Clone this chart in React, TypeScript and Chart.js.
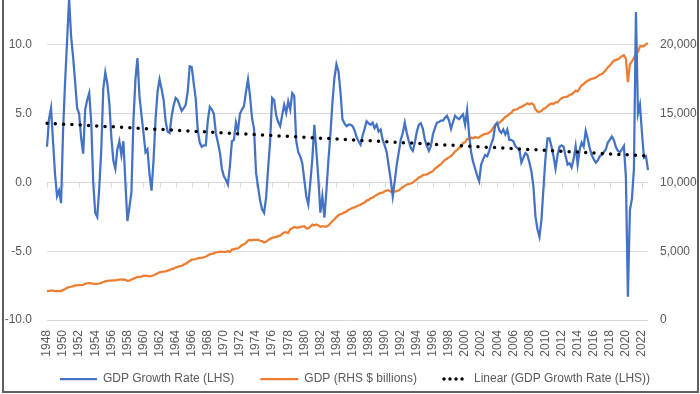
import React, { useEffect, useRef } from "react";
import { Chart, registerables } from "chart.js";

Chart.register(...registerables);

// ---------- data ----------
const firstYear = 1948;
const lastYear = 2022;
const quarterNames = ["Q1", "Q2", "Q3", "Q4"];

// Year-over-year real GDP growth, %, quarterly 1948 Q1 .. 2022 Q4 (left axis)
const growthRate: number[] = [
  2.6, 4.6, 5.4, 3.0, // 1948
  0.6, -1.0, -0.6, -1.5, // 1949
  3.8, 7.3, 10.3, 13.4, // 1950
  10.6, 9.1, 7.3, 5.4, // 1951
  5.0, 3.2, 2.1, 5.3, // 1952
  6.0, 6.5, 4.4, 0.0, // 1953
  -2.2, -2.5, -0.4, 2.4, // 1954
  6.8, 8.0, 7.2, 5.8, // 1955
  3.3, 1.6, 1.0, 2.4, // 1956
  3.0, 2.0, 3.0, 0.0, // 1957
  -2.8, -1.8, -0.7, 4.5, // 1958
  7.5, 9.05, 6.3, 4.9, // 1959
  3.6, 2.2, 2.4, 0.6, // 1960
  -0.6, 1.6, 4.6, 6.6, // 1961
  7.5, 6.8, 6.0, 4.5, // 1962
  3.7, 3.6, 4.8, 5.6, // 1963
  6.15, 6.0, 5.6, 5.2, // 1964
  5.4, 5.65, 6.6, 8.45, // 1965
  8.4, 7.2, 6.1, 3.8, // 1966
  2.9, 2.6, 2.7, 2.7, // 1967
  4.5, 5.5, 5.3, 5.0, // 1968
  3.6, 2.9, 2.2, 1.0, // 1969
  0.45, 0.2, -0.15, 1.2, // 1970
  3.0, 3.1, 4.35, 3.75, // 1971
  5.0, 5.3, 5.55, 6.6, // 1972
  7.5, 6.3, 4.7, 3.9, // 1973
  0.7, -0.3, -1.3, -1.95, // 1974
  -2.2, -1.1, 1.0, 3.0, // 1975
  6.15, 6.0, 4.9, 4.4, // 1976
  4.1, 4.9, 5.65, 5.05, // 1977
  5.9, 5.3, 6.5, 6.3, // 1978
  3.0, 2.2, 1.9, 1.4, // 1979
  0.2, -1.0, -1.6, 0.0, // 1980
  1.7, 4.2, 2.3, 0.3, // 1981
  -2.2, -1.0, -2.55, -0.6, // 1982
  1.6, 3.5, 5.8, 7.6, // 1983
  8.6, 8.1, 6.6, 4.6, // 1984
  4.3, 4.1, 4.2, 4.2, // 1985
  4.1, 3.8, 3.3, 3.0, // 1986
  2.75, 3.4, 3.9, 4.45, // 1987
  4.3, 4.2, 4.35, 3.95, // 1988
  4.2, 3.7, 3.85, 3.1, // 1989
  2.7, 2.2, 1.2, 0.2, // 1990
  -1.0, 0.1, 1.3, 2.2, // 1991
  3.1, 3.6, 4.35, 3.6, // 1992
  3.0, 2.5, 2.3, 2.9, // 1993
  3.7, 4.2, 4.3, 3.9, // 1994
  3.1, 2.65, 2.3, 2.65, // 1995
  3.5, 3.95, 4.35, 4.4, // 1996
  4.5, 4.5, 4.7, 4.85, // 1997
  4.5, 3.9, 4.4, 4.85, // 1998
  4.7, 4.6, 4.8, 4.95, // 1999
  4.2, 5.25, 3.5, 2.2, // 2000
  1.5, 1.0, 0.5, 0.1, // 2001
  1.3, 1.7, 2.0, 1.9, // 2002
  2.3, 2.8, 3.2, 4.2, // 2003
  4.35, 3.8, 3.6, 3.85, // 2004
  3.5, 3.85, 3.1, 3.1, // 2005
  3.0, 2.65, 2.5, 2.4, // 2006
  1.45, 1.8, 2.15, 2.0, // 2007
  1.45, 0.8, -0.3, -2.45, // 2008
  -3.4, -3.95, -2.7, -0.4, // 2009
  1.8, 3.2, 3.2, 2.6, // 2010
  1.9, 1.0, 2.0, 2.6, // 2011
  2.7, 2.6, 1.9, 1.3, // 2012
  1.4, 1.1, 1.7, 2.65, // 2013
  1.3, 2.4, 2.9, 2.6, // 2014
  3.75, 3.2, 2.5, 2.0, // 2015
  1.7, 1.45, 1.6, 1.9, // 2016
  2.0, 2.2, 2.4, 2.9, // 2017
  3.1, 3.35, 3.1, 2.6, // 2018
  2.3, 2.2, 2.4, 2.65, // 2019
  0.4, -8.3, -2.0, -1.2, // 2020
  1.0, 12.4, 5.0, 5.65, // 2021
  3.6, 1.8, 1.9, 0.9, // 2022
];

// Real GDP, $ billions, quarterly 1948 Q1 .. 2022 Q4 (right axis)
const gdpBillions: number[] = [
  2087, 2122, 2134, 2136, // 1948
  2107, 2100, 2121, 2104, // 1949
  2186, 2253, 2340, 2385, // 1950
  2417, 2459, 2510, 2515, // 1951
  2534, 2539, 2559, 2629, // 1952
  2673, 2689, 2670, 2630, // 1953
  2621, 2625, 2654, 2698, // 1954
  2765, 2810, 2853, 2871, // 1955
  2863, 2880, 2880, 2913, // 1956
  2934, 2929, 2952, 2922, // 1957
  2854, 2869, 2944, 3010, // 1958
  3064, 3142, 3143, 3156, // 1959
  3228, 3205, 3213, 3172, // 1960
  3201, 3258, 3319, 3398, // 1961
  3462, 3501, 3526, 3537, // 1962
  3585, 3625, 3702, 3737, // 1963
  3821, 3865, 3925, 3940, // 1964
  4037, 4095, 4185, 4294, // 1965
  4394, 4404, 4437, 4478, // 1966
  4519, 4524, 4563, 4598, // 1967
  4689, 4779, 4815, 4837, // 1968
  4922, 4943, 4977, 4952, // 1969
  4947, 4954, 5001, 4955, // 1970
  5125, 5149, 5192, 5206, // 1971
  5323, 5449, 5506, 5613, // 1972
  5774, 5819, 5789, 5848, // 1973
  5813, 5837, 5762, 5743, // 1974
  5642, 5689, 5813, 5906, // 1975
  5972, 6013, 6049, 6098, // 1976
  6133, 6259, 6379, 6374, // 1977
  6331, 6606, 6669, 6765, // 1978
  6716, 6723, 6773, 6795, // 1979
  6817, 6669, 6669, 6786, // 1980
  6938, 6889, 6949, 6873, // 1981
  6783, 6822, 6790, 6796, // 1982
  6877, 7037, 7186, 7331, // 1983
  7485, 7614, 7692, 7749, // 1984
  7826, 7894, 8015, 8076, // 1985
  8152, 8185, 8264, 8322, // 1986
  8384, 8469, 8540, 8683, // 1987
  8735, 8847, 8890, 9005, // 1988
  9099, 9173, 9242, 9263, // 1989
  9358, 9418, 9422, 9326, // 1990
  9278, 9339, 9383, 9427, // 1991
  9548, 9654, 9752, 9856, // 1992
  9874, 9928, 9991, 10132, // 1993
  10227, 10359, 10421, 10534, // 1994
  10563, 10588, 10675, 10754, // 1995
  10824, 11009, 11103, 11237, // 1996
  11328, 11508, 11638, 11728, // 1997
  11827, 11932, 12072, 12257, // 1998
  12378, 12492, 12652, 12878, // 1999
  12924, 13160, 13178, 13260, // 2000
  13222, 13300, 13244, 13281, // 2001
  13397, 13478, 13539, 13559, // 2002
  13634, 13751, 13985, 14146, // 2003
  14221, 14330, 14465, 14605, // 2004
  14768, 14844, 14983, 15068, // 2005
  15268, 15302, 15327, 15456, // 2006
  15494, 15583, 15666, 15762, // 2007
  15671, 15753, 15667, 15329, // 2008
  15155, 15134, 15190, 15356, // 2009
  15416, 15558, 15671, 15751, // 2010
  15713, 15825, 15821, 16004, // 2011
  16129, 16198, 16220, 16240, // 2012
  16383, 16404, 16532, 16687, // 2013
  16623, 16849, 17073, 17161, // 2014
  17294, 17394, 17484, 17532, // 2015
  17568, 17623, 17732, 17834, // 2016
  17894, 18002, 18183, 18369, // 2017
  18510, 18687, 18851, 18917, // 2018
  18950, 19060, 19180, 19250, // 2019
  19010, 17300, 18600, 18800, // 2020
  19060, 19370, 19480, 19900, // 2021
  19920, 19900, 20050, 20120, // 2022
];

const leftTicks = [-10, -5, 0, 5, 10];
const rightTicks = [0, 5000, 10000, 15000, 20000];
const seriesNames = [
  "GDP Growth Rate (LHS)",
  "GDP (RHS $ billions)",
  "Linear (GDP Growth Rate (LHS))",
];
const tickEveryYears = 2;

// ---------- derived tables ----------
const categories: string[] = [];
for (let y = firstYear; y <= lastYear; y++) {
  for (const q of quarterNames) categories.push(`${y} ${q}`);
}

// least-squares linear trendline of the growth series (Excel "Linear" trendline)
function linearTrend(values: number[]): number[] {
  const n = values.length;
  let sx = 0, sy = 0, sxy = 0, sxx = 0;
  values.forEach((v, i) => {
    sx += i; sy += v; sxy += i * v; sxx += i * i;
  });
  const slope = (n * sxy - sx * sy) / (n * sxx - sx * sx);
  const intercept = (sy - slope * sx) / n;
  return values.map((_, i) => intercept + slope * i);
}
const growthTrend = linearTrend(growthRate);

// ---------- styles ----------
const BLUE = "#4472C4";
const ORANGE = "#ED7D31";
const TEXT = "#595959";
const GRID = "#D9D9D9";
const FONT_FAMILY = '"Liberation Sans", Arial, sans-serif';

const legendStyle = {
  sampleWidths: [37, 38, 25],
  textGap: 6,
  itemGap: 26,
  centerX: 355,
  centerY: 379,
  fontSize: 12,
};

function isLabelIndex(idx: number): boolean {
  const c = categories[idx];
  const yr = parseInt(c, 10);
  return c.endsWith("Q1") && (yr - firstYear) % tickEveryYears === 0;
}

// small tick marks on the horizontal axis line at 0 (Excel axis crossing)
const zeroAxisTicks = {
  id: "zeroAxisTicks",
  beforeDatasetsDraw(chart: any) {
    const x = chart.scales.x;
    const y = chart.scales.y;
    const y0 = y.getPixelForValue(0);
    const ctx = chart.ctx;
    ctx.save();
    ctx.strokeStyle = GRID;
    ctx.lineWidth = 1;
    ctx.beginPath();
    categories.forEach((_c, i) => {
      if (isLabelIndex(i)) {
        const px = Math.round(x.getPixelForValue(i)) + 0.5;
        ctx.moveTo(px, y0);
        ctx.lineTo(px, y0 + 5);
      }
    });
    ctx.stroke();
    ctx.restore();
  },
};

// Excel-style legend row under the axis
const excelLegend = {
  id: "excelLegend",
  afterDraw(chart: any) {
    const ctx = chart.ctx;
    const ds = chart.data.datasets;
    ctx.save();
    ctx.font = `${legendStyle.fontSize}px ${FONT_FAMILY}`;
    ctx.textBaseline = "middle";
    ctx.textAlign = "left";
    const widths = ds.map((d: any) => ctx.measureText(d.label).width);
    let total = 0;
    ds.forEach((_d: any, i: number) => {
      total += legendStyle.sampleWidths[i] + legendStyle.textGap + widths[i];
    });
    total += legendStyle.itemGap * (ds.length - 1);
    let x = legendStyle.centerX - total / 2;
    const y = legendStyle.centerY;
    ds.forEach((d: any, i: number) => {
      const sw = legendStyle.sampleWidths[i];
      ctx.beginPath();
      ctx.strokeStyle = d.borderColor;
      ctx.lineWidth = d.borderWidth;
      if (d.borderDash && d.borderDash.length) {
        ctx.setLineDash([0, 6]);
        ctx.lineCap = "round";
        ctx.moveTo(x + 1, y);
        ctx.lineTo(x + sw - 0.5, y);
      } else {
        ctx.setLineDash([]);
        ctx.lineCap = "butt";
        ctx.moveTo(x, y);
        ctx.lineTo(x + sw, y);
      }
      ctx.stroke();
      ctx.setLineDash([]);
      x += sw + legendStyle.textGap;
      ctx.fillStyle = TEXT;
      ctx.fillText(d.label, x, y);
      x += widths[i] + legendStyle.itemGap;
    });
    ctx.restore();
  },
};

export default function App() {
  const canvasRef = useRef<HTMLCanvasElement | null>(null);

  useEffect(() => {
    if (!canvasRef.current) return;
    Chart.defaults.font.family = FONT_FAMILY;
    Chart.defaults.color = TEXT;

    const chart = new Chart(canvasRef.current, {
      type: "line",
      data: {
        labels: categories,
        datasets: [
          {
            label: seriesNames[0],
            data: growthRate,
            yAxisID: "y",
            borderColor: BLUE,
            backgroundColor: BLUE,
            borderWidth: 2.25,
            pointRadius: 0,
            tension: 0,
            order: 1,
          },
          {
            label: seriesNames[1],
            data: gdpBillions,
            yAxisID: "y1",
            borderColor: ORANGE,
            backgroundColor: ORANGE,
            borderWidth: 2.25,
            pointRadius: 0,
            tension: 0,
            order: 2,
          },
          {
            label: seriesNames[2],
            data: growthTrend,
            yAxisID: "y",
            borderColor: "#000000",
            backgroundColor: "#000000",
            borderWidth: 3.5,
            borderDash: [0, 8.3],
            borderCapStyle: "round",
            pointRadius: 0,
            order: 0,
          },
        ],
      },
      options: {
        animation: false,
        responsive: true,
        maintainAspectRatio: false,
        layout: { padding: 0 },
        plugins: {
          tooltip: { enabled: false },
          legend: { display: false },
        },
        scales: {
          x: {
            type: "category",
            offset: false,
            grid: { display: false, drawTicks: false },
            border: { display: false },
            ticks: {
              autoSkip: false,
              minRotation: 90,
              maxRotation: 90,
              padding: 10,
              color: TEXT,
              font: { size: 12 },
              callback: (_v: any, idx: number) =>
                isLabelIndex(idx) ? String(parseInt(categories[idx], 10)) : null,
            },
            afterFit: (s: any) => {
              s.height = 74;
              s.paddingLeft = 0;
              s.paddingRight = 0;
            },
          },
          y: {
            type: "linear",
            position: "left",
            min: -10,
            max: 13.27,
            grid: { color: GRID, lineWidth: 1, drawTicks: false },
            border: { display: false },
            afterBuildTicks: (s: any) => {
              s.ticks = leftTicks.map((v) => ({ value: v }));
            },
            ticks: {
              padding: 15,
              color: TEXT,
              font: { size: 12 },
              callback: (v: any) => Number(v).toFixed(1),
            },
            afterFit: (s: any) => {
              s.width = 47;
              s.paddingTop = 0;
              s.paddingBottom = 0;
            },
          },
          y1: {
            type: "linear",
            position: "right",
            min: 0,
            max: 23270,
            grid: { display: false, drawTicks: false },
            border: { display: false },
            afterBuildTicks: (s: any) => {
              s.ticks = rightTicks.map((v) => ({ value: v }));
            },
            ticks: {
              padding: 12,
              color: TEXT,
              font: { size: 12 },
              callback: (v: any) => Number(v).toLocaleString("en-US"),
            },
            afterFit: (s: any) => {
              s.width = 52;
              s.paddingTop = 0;
              s.paddingBottom = 0;
            },
          },
        },
      },
      plugins: [zeroAxisTicks, excelLegend],
    });

    return () => chart.destroy();
  }, []);

  return (
    <div
      style={{
        position: "absolute",
        left: 0,
        top: 0,
        width: 700,
        height: 394,
        background: "#ffffff",
        overflow: "hidden",
      }}
    >
      <canvas ref={canvasRef} />
      <div
        style={{
          position: "absolute",
          left: 2,
          top: -4,
          width: 697,
          height: 397,
          boxSizing: "border-box",
          border: "2px solid #5f5f5f",
          pointerEvents: "none",
        }}
      />
    </div>
  );
}
